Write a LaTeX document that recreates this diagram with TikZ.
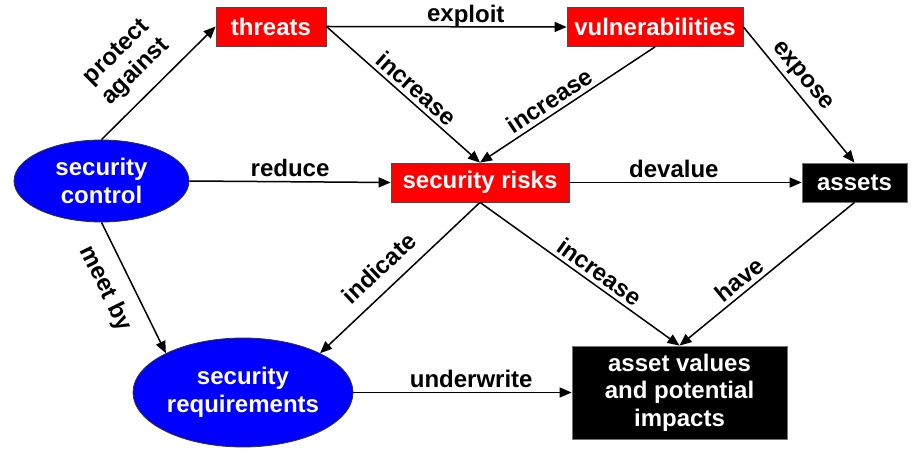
\documentclass[tikz,border=0pt]{standalone}
\usepackage{fontspec}
\setmainfont{Liberation Sans}
\usetikzlibrary{shapes.geometric,arrows.meta}

\begin{document}
\begin{tikzpicture}[
			x=0.5pt, y=-0.5pt,
			every node/.style={font=\fontsize{12}{13.8}\selectfont\bfseries}, % bold sans everywhere
			redbox/.style={draw=black!70, fill=red, text=white, minimum height=19.5pt, inner sep=0pt},
			blackbox/.style={draw=black!55, fill=black, text=white, inner sep=0pt},
			blueoval/.style={ellipse, draw=black!80, fill=blue, text=white, align=center, inner sep=0pt},
			edge label/.style={sloped, inner sep=2pt, text=black},
			link/.style={-{Triangle[length=6pt,width=5pt]}, line width=0.75pt}
			]
			\useasboundingbox (0,0) rectangle (913,453);
			% nodes
			\node[redbox, minimum width=55pt] (threats) at (271,26.5) {threats};
			\node[redbox, minimum width=88pt] (vuln) at (655,27) {vulnerabilities};
			\node[redbox, minimum width=89pt] (risks) at (480,182.5) {security risks};
			\node[blackbox, minimum width=52.5pt, minimum height=19.5pt] (assets) at (854.5,182.5) {assets};
			\node[blackbox, minimum width=107.5pt, minimum height=46.5pt, align=center] (impacts) at (679.5,392.5) {asset values\\and potential\\impacts};
			\node[blueoval, minimum width=87.5pt, minimum height=41pt] (control) at (101.5,181) {security\\control};
			\node[blueoval, minimum width=110pt, minimum height=54.5pt] (reqs) at (243,392.5) {security\\requirements};
			% links
			\draw[link] (control.north) -- node[edge label, above=4pt, pos=0.45, align=center] {protect\\against} (threats.west);
			\draw[link] (threats.east) -- node[edge label, above, pos=0.58, text depth=0pt] {exploit} (vuln.west);
			\draw[link] (threats.east) -- node[edge label, above, pos=0.53] {increase} (risks.north);
			\draw[link] (vuln.south) -- node[edge label, above, pos=0.56] {increase} (risks.north);
			\draw[link] (vuln.east) -- node[edge label, above, pos=0.43] {expose} (assets.north);
			\draw[link] (control.east) -- node[edge label, above, pos=0.5] {reduce} (risks.west);
			\draw[link] (risks.east) -- node[edge label, above, pos=0.45] {devalue} (assets.west);
			\draw[link] (control.south) -- node[edge label, below=5pt, pos=0.42] {meet by} (reqs.153);
			\draw[link] (risks.south) -- node[edge label, above=4pt, pos=0.54] {indicate} (reqs.27);
			\draw[link] (risks.south) -- node[edge label, above, pos=0.56] {increase} (impacts.north);
			\draw[link] (assets.south) -- node[edge label, above, pos=0.61] {have} (impacts.north);
			\draw[link] (reqs.east) -- node[edge label, above, pos=0.54] {underwrite} (impacts.west);
		\end{tikzpicture}
\end{document}
